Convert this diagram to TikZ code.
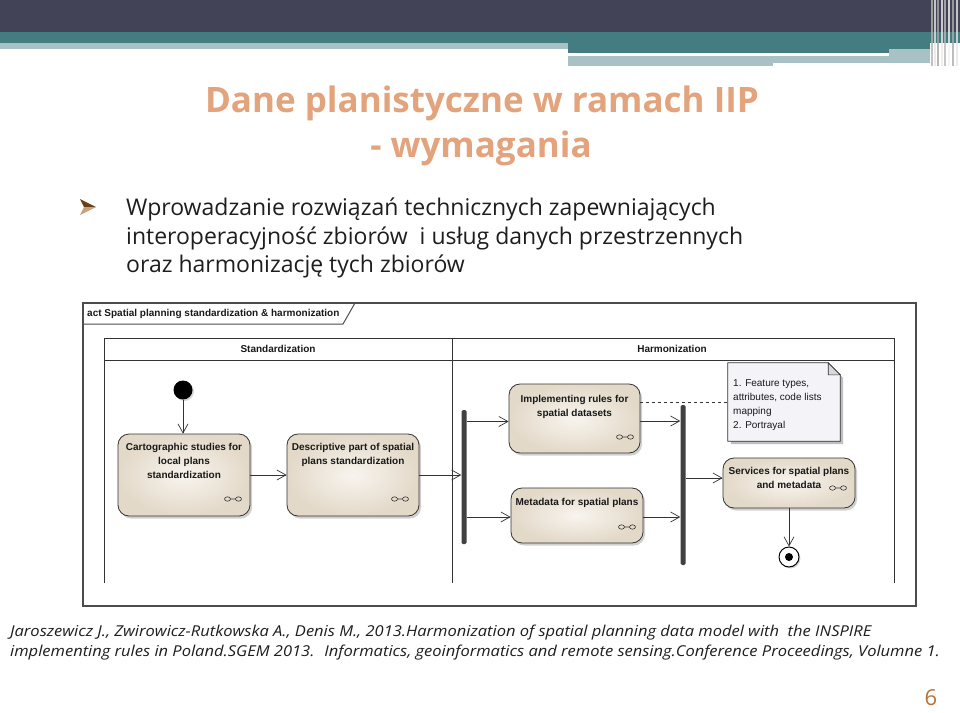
\documentclass[tikz,border=0pt]{standalone}
\usepackage{fontspec}
\setmainfont{Open Sans}
\newfontfamily\diag{Liberation Sans}
\usetikzlibrary{arrows.meta,shadows,calc}
\definecolor{topdark}{HTML}{434358}
\definecolor{tealband}{HTML}{447D81}
\definecolor{lightteal}{HTML}{A7C1C5}
\definecolor{titlec}{HTML}{E2A37D}
\definecolor{bodyc}{HTML}{1E1E1E}
\definecolor{pagec}{HTML}{B8733A}
\definecolor{bulletdark}{HTML}{6B3E18}
\definecolor{bulletlight}{HTML}{C9A07A}
\definecolor{boxlight}{HTML}{F8F4EE}
\definecolor{boxdark}{HTML}{E3D9C9}
\definecolor{linec}{HTML}{333333}
\definecolor{notec}{HTML}{F4F3F8}
\begin{document}
\begin{tikzpicture}[x=1pt,y=-1pt,
  actbox/.style={draw=linec, line width=0.8pt, rounded corners=11pt,
    inner color=boxlight, outer color=boxdark, inner sep=0,
    drop shadow={shadow xshift=2pt,shadow yshift=-2.5pt,opacity=0.3,fill=black!60}},
  lbl/.style={font=\diag\bfseries\fontsize{10}{14}\selectfont, align=center, text=black!90, inner sep=0},
  notetxt/.style={font=\diag\fontsize{10}{14}\selectfont, align=left, text=black!90, inner sep=0},
  flow/.style={draw=linec, line width=0.7pt, -{Straight Barb[length=9pt,width=10pt,line width=0.7pt]}},
  forkbar/.style={fill=black!75, draw=none, rounded corners=1.5pt, minimum width=5pt, inner sep=0},
  laneline/.style={draw=linec, line width=0.8pt},
  bodytxt/.style={anchor=base west, font=\fontsize{23}{29}\selectfont, text=bodyc, inner sep=0},
  citetxt/.style={anchor=base west, font=\itshape\fontsize{15}{20}\selectfont, text=bodyc, inner sep=0},
  rake/.pic={\draw[line width=0.6pt, linec] (-5.5,0) ellipse [x radius=3pt, y radius=2.2pt]
      (5.5,0) ellipse [x radius=3pt, y radius=2.2pt] (-2.5,0) -- (2.5,0);}
]
\useasboundingbox (0,0) rectangle (960,712);
\fill[white] (0,0) rectangle (960,712);
% ---- header bars
\fill[topdark] (0,0) rectangle (960,32);
\fill[tealband] (0,32) rectangle (960,42.5);
\fill[lightteal] (0,42.5) rectangle (568,48.5);
\fill[tealband] (568,42.5) rectangle (930,52.5);
\fill[lightteal] (568,55.5) rectangle (773,66);
\fill[lightteal] (773,55.5) rectangle (889,63);
\fill[lightteal] (889,48.5) rectangle (930,63);
\foreach \xx/\cc in {931/gray!60,934/white!80!gray,937/gray!70,941/white!85!gray,944/gray!55,948/white!90!gray,952/gray!65,956/white!80!gray}
  \fill[\cc, opacity=0.8] (\xx,0) rectangle ++(2,66);
% ---- title
\node[anchor=base, font=\bfseries\fontsize{35}{40}\selectfont, text=titlec, inner sep=0] (t1) at (482,112) {Dane planistyczne w ramach IIP};
\node[anchor=base, font=\bfseries\fontsize{35}{40}\selectfont, text=titlec, inner sep=0] (t2) at (481,157) {- wymagania};
% ---- bullet
\fill[bulletdark] (80,199) -- (96,207) -- (84,207) -- cycle;
\fill[bulletlight] (80,215) -- (96,207) -- (84,207) -- cycle;
\node[bodytxt] (b1) at (126,215) {Wprowadzanie rozwiązań technicznych zapewniających};
\node[bodytxt] (b2) at (126,244) {interoperacyjność zbiorów \ i usług danych przestrzennych};
\node[bodytxt] (b3) at (126,272) {oraz harmonizację tych zbiorów};
% ---- diagram frame
\draw[draw=black!70, line width=1.2pt] (83,303) rectangle (916,606);
\draw[draw=black!70, line width=1pt] (83,324) -- (343,324) -- (355,303);
\node[anchor=west, lbl] (frameLbl) at (87,314) {act Spatial planning standardization \& harmonization};
% ---- lanes
\draw[laneline] (104,583) -- (104,338) -- (894,338) -- (894,583);
\draw[laneline] (104,360) -- (894,360);
\draw[laneline] (452,338) -- (452,583);
\node[lbl] (laneS) at (278,349) {Standardization};
\node[lbl] (laneH) at (672,349) {Harmonization};
% ---- nodes
\node[circle, fill=black, minimum size=19pt, inner sep=0, drop shadow={shadow xshift=1.5pt,shadow yshift=-1.5pt,opacity=0.3}] (init) at (183,390) {};
\node[actbox, minimum width=132pt, minimum height=82pt] (cart) at (184,475) {};
\node[actbox, minimum width=132pt, minimum height=82pt] (desc) at (353,475) {};
\node[actbox, minimum width=131pt, minimum height=69pt] (impl) at (574.5,418.5) {};
\node[actbox, minimum width=132pt, minimum height=55pt] (meta) at (577,515.5) {};
\node[actbox, minimum width=132pt, minimum height=50pt] (serv) at (789,483) {};
\node[forkbar, minimum height=134pt] (fork1) at (464,477) {};
\node[forkbar, minimum height=160pt] (fork2) at (683,485) {};
\node[circle, draw=black, line width=1pt, fill=white, minimum size=20pt, inner sep=0, drop shadow={shadow xshift=1.5pt,shadow yshift=-1.5pt,opacity=0.3}] (final) at (789,557) {};
\node[circle, fill=black, minimum size=8pt, inner sep=0] (finalDot) at (final.center) {};
% labels
\node[lbl, anchor=north] (cartT) at (184,443) {Cartographic studies for\\local plans\\standardization};
\node[lbl, anchor=north] (descT) at (353,443) {Descriptive part of spatial\\plans standardization};
\node[lbl, anchor=north] (implT) at (574.5,395) {Implementing rules for\\spatial datasets};
\node[lbl, anchor=north] (metaT) at (577,498) {Metadata for spatial plans};
\node[lbl, anchor=north] (servT) at (789,467) {Services for spatial plans\\and metadata};
\pic at (233,499) {rake};
\pic at (400,499) {rake};
\pic at (625,437) {rake};
\pic at (627,527) {rake};
\pic at (838,488) {rake};
% ---- note
\node[minimum width=112pt, minimum height=78pt, inner sep=0] (note) at (784,402) {};
\fill[black, opacity=0.25] ([xshift=3pt,yshift=-3pt]note.north west) -- ([xshift=-9pt,yshift=-3pt]note.north east) -- ([xshift=3pt,yshift=-15pt]note.north east) -- ([xshift=3pt,yshift=-3pt]note.south east) -- ([xshift=3pt,yshift=-3pt]note.south west) -- cycle;
\filldraw[fill=notec, draw=linec, line width=0.8pt] (note.north west) -- ([xshift=-12pt]note.north east) -- ([yshift=-12pt]note.north east) -- (note.south east) -- (note.south west) -- cycle;
\filldraw[fill=black!15, draw=linec, line width=0.6pt] ([xshift=-12pt]note.north east) -- ([xshift=-12pt,yshift=-12pt]note.north east) -- ([yshift=-12pt]note.north east) -- cycle;
\node[notetxt, anchor=north west] (noteT) at (733,379) {1. Feature types,\\attributes, code lists\\mapping\\2. Portrayal};
% ---- connectors
\draw[flow] (init.south) -- (init.south |- cart.north);
\draw[flow] (cart.east) -- (desc.west);
\draw[flow] (desc.east) -- (desc.east -| fork1.west);
\coordinate (i1) at ($(impl.west)+(0,3)$);
\draw[flow] (fork1.east |- i1) -- (i1);
\coordinate (m1) at ($(meta.west)+(0,1.5)$);
\draw[flow] (fork1.east |- m1) -- (m1);
\coordinate (i2) at ($(impl.east)+(0,2.5)$);
\draw[flow] (i2) -- (i2 -| fork2.west);
\draw[flow] (m1 -| meta.east) -- (m1 -| fork2.west);
\coordinate (s1) at ($(serv.west)+(0,-5)$);
\draw[flow] (fork2.east |- s1) -- (s1);
\draw[flow] (serv.south) -- (final.north);
\coordinate (d1) at ($(impl.east)+(0,-16.5)$);
\draw[linec, line width=0.7pt, dash pattern=on 3pt off 3pt] (d1) -- (d1 -| note.west);
% ---- citation
\node[citetxt] (c1) at (10,636) {\scalebox{1.1}[1]{Jaroszewicz J., Zwirowicz-Rutkowska A., Denis M., 2013.Harmonization of spatial planning data model with \ the INSPIRE}};
\node[citetxt] (c2) at (10,656) {\scalebox{1.1}[1]{implementing rules in Poland.SGEM 2013. \ Informatics, geoinformatics and remote sensing.Conference Proceedings, Volumne 1.}};
\node[anchor=base, font=\fontsize{22}{24}\selectfont, text=pagec, inner sep=0] (pg) at (931,705) {6};
\end{tikzpicture}
\end{document}
